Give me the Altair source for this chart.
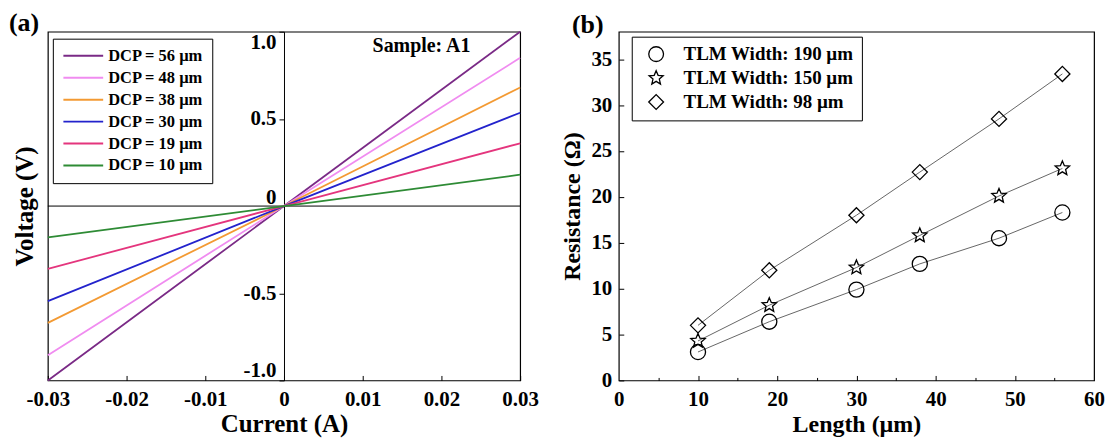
import math
import altair as alt
import pandas as pd

FONT = "Liberation Serif"

# ---------------- panel (a): I-V lines ----------------
current_points = [-0.03, 0.0, 0.03]
dcp_labels = ["DCP = 56 µm", "DCP = 48 µm", "DCP = 38 µm",
              "DCP = 30 µm", "DCP = 19 µm", "DCP = 10 µm"]
voltage_56 = [-1.0, 0.0, 1.0]
voltage_48 = [-0.855, 0.0, 0.85]
voltage_38 = [-0.67, 0.0, 0.68]
voltage_30 = [-0.545, 0.0, 0.535]
voltage_19 = [-0.36, 0.0, 0.36]
voltage_10 = [-0.18, 0.0, 0.18]
dcp_colors = ["#7a2a86", "#f08cf0", "#f39a33", "#2323cc", "#e4357d", "#2e8b35"]
x_ticks_a = [-0.03, -0.02, -0.01, 0, 0.01, 0.02, 0.03]
y_ticks_a = [-1.0, -0.5, 0, 0.5, 1.0]

# ---------------- panel (b): TLM resistance ----------------
lengths = [10, 19, 30, 38, 48, 56]
series_b = ["TLM Width: 190 µm", "TLM Width: 150 µm", "TLM Width: 98 µm"]
r_190 = [3.1, 6.4, 9.9, 12.7, 15.5, 18.3]
r_150 = [4.3, 8.2, 12.3, 15.8, 20.1, 23.1]
r_98 = [6.0, 12.0, 18.0, 22.7, 28.5, 33.4]
x_ticks_b = [0, 10, 20, 30, 40, 50, 60]
x_inner_ticks_b = [5, 10, 15, 20, 25, 30, 35, 40, 45, 50, 55]
y_ticks_b = [0, 5, 10, 15, 20, 25, 30, 35]

# ---------------- tables ----------------
rows_a = []
for lab, vs in zip(dcp_labels, [voltage_56, voltage_48, voltage_38, voltage_30, voltage_19, voltage_10]):
    for i, v in zip(current_points, vs):
        rows_a.append({"I": i, "V": v, "DCP": lab})
df_a = pd.DataFrame(rows_a)

rows_b = []
for lab, rs in zip(series_b, [r_190, r_150, r_98]):
    for L, r in zip(lengths, rs):
        rows_b.append({"L": L, "R": r, "S": lab})
df_b = pd.DataFrame(rows_b)

# star symbol path (style only)
pts = []
for k in range(10):
    ang = math.radians(-90 + 36 * k)
    rad = 1.0 if k % 2 == 0 else 0.45
    pts.append(f"{rad * math.cos(ang):.3f},{rad * math.sin(ang):.3f}")
STAR = "M" + " L".join(pts) + " Z"
LINE_SYM = "M-1,0H5"

W1, H1 = 474, 350
W2, H2 = 477, 350
GAP = 99

# ---------------- panel (a) chart ----------------
xs_a = alt.Scale(domain=[-0.03, 0.03], nice=False, zero=False)
ys_a = alt.Scale(domain=[-1.0, 1.0], nice=False, zero=False)
lab_x_a = "datum.value === 0 ? '0' : (datum.value < 0 ? '-' : '') + format(abs(datum.value), '.2f')"
lab_y_a = "datum.value === 0 ? '0' : (datum.value < 0 ? '-' : '') + format(abs(datum.value), '.1f')"

zero_rule = alt.Chart(pd.DataFrame({"V": [0.0]})).mark_rule(color="black", strokeWidth=1).encode(
    y=alt.Y("V:Q", scale=ys_a, axis=None)
)

lines_a = alt.Chart(df_a).mark_line(strokeWidth=1.8).encode(
    x=alt.X("I:Q", scale=xs_a, axis=alt.Axis(
        title="Current (A)", values=x_ticks_a, labelExpr=lab_x_a, labelFlush=False,
        ticks=False, tickSize=0, domain=False, grid=False, labelPadding=8,
        titlePadding=2, titleFontSize=25, labelFontSize=21,
        labelFont=FONT, labelFontWeight=700)),
    y=alt.Y("V:Q", scale=ys_a, axis=alt.Axis(
        title="Voltage (V)", values=y_ticks_a, labelExpr=lab_y_a, labelFlush=True,
        offset=-W1 / 2, tickSize=5, labelPadding=3, domain=True, grid=False,
        titleX=-(W1 / 2) - 10, titleFontSize=25, labelFontSize=21,
        labelFont=FONT, labelFontWeight=700,
        labelOffset={"condition": {"test": "datum.value === 0", "value": -9}, "value": 0})),
    color=alt.Color("DCP:N", scale=alt.Scale(domain=dcp_labels, range=dcp_colors),
                    legend=alt.Legend(
                        title=None, orient="none", legendX=5, legendY=7,
                        strokeColor="black", fillColor="white", padding=9,
                        symbolType=LINE_SYM, symbolSize=177, symbolStrokeWidth=2,
                        labelFont=FONT, labelFontSize=16.5, labelFontWeight="bold",
                        labelColor="black", labelOffset=30, rowPadding=5, labelLimit=300)),
    detail="DCP:N",
)

xt_a = alt.Chart(df_a).mark_point(opacity=0).encode(
    x=alt.X("I:Q", scale=xs_a, axis=alt.Axis(
        orient="top", offset=-H1, values=x_ticks_a, labels=False, domain=False,
        grid=False, tickSize=5, title=None))
)

tag_a = alt.Chart(pd.DataFrame({"t": ["(a)"]})).mark_text(
    font=FONT, fontSize=26, fontWeight="bold", align="left", baseline="top", color="black"
).encode(text="t:N", x=alt.value(-39), y=alt.value(-22))

sample = alt.Chart(pd.DataFrame({"t": ["Sample: A1"]})).mark_text(
    font=FONT, fontSize=20, fontWeight="bold", align="center", baseline="middle", color="black"
).encode(text="t:N", x=alt.value(375), y=alt.value(14))

left = alt.layer(zero_rule, lines_a, xt_a, tag_a, sample).resolve_axis(
    x="independent", y="independent"
).properties(width=W1, height=H1)

# ---------------- panel (b) chart ----------------
xs_b = alt.Scale(domain=[0, 60], nice=False)
ys_b = alt.Scale(domain=[0, 38], nice=False)

lines_b = alt.Chart(df_b).mark_line(color="#555555", strokeWidth=0.9).encode(
    x=alt.X("L:Q", scale=xs_b, axis=alt.Axis(
        title="Length (µm)", values=x_ticks_b, labelFlush=False, ticks=False, tickSize=0,
        domain=False, grid=False, labelPadding=8, titlePadding=3,
        titleFontSize=24, labelFontSize=21, labelFont=FONT, labelFontWeight=700)),
    y=alt.Y("R:Q", scale=ys_b, axis=alt.Axis(
        title="Resistance (Ω)", values=y_ticks_b, labelFlush=False, ticks=False, tickSize=0,
        domain=False, grid=False, labelPadding=7, titlePadding=6,
        titleFontSize=24, labelFontSize=21, labelFont=FONT, labelFontWeight=700)),
    detail="S:N",
)

points_b = alt.Chart(df_b).mark_point(filled=False, color="black", size=230, strokeWidth=1.3, opacity=1).encode(
    x=alt.X("L:Q", scale=xs_b, axis=None),
    y=alt.Y("R:Q", scale=ys_b, axis=None),
    shape=alt.Shape("S:N", scale=alt.Scale(domain=series_b, range=["circle", STAR, "diamond"]),
                    legend=alt.Legend(
                        title=None, orient="none", legendX=W1 + GAP + 13, legendY=5,
                        strokeColor="black", fillColor="white", padding=8,
                        symbolSize=220, symbolStrokeWidth=1.3, symbolStrokeColor="black",
                        symbolFillColor="white", symbolOffset=7,
                        labelFont=FONT, labelFontSize=19, labelFontWeight="bold",
                        labelColor="black", labelOffset=18, rowPadding=3, labelLimit=300)),
)

xt_b = alt.Chart(df_b).mark_point(opacity=0).encode(
    x=alt.X("L:Q", scale=xs_b, axis=alt.Axis(
        orient="top", offset=-H2, values=x_inner_ticks_b, labels=False, domain=False,
        grid=False, title=None,
        tickSize={"condition": {"test": "datum.value % 10 === 0", "value": 5}, "value": 3}))
)

yt_b = alt.Chart(df_b).mark_point(opacity=0).encode(
    y=alt.Y("R:Q", scale=ys_b, axis=alt.Axis(
        orient="right", offset=-W2, values=y_ticks_b, labels=False, domain=False,
        grid=False, title=None, tickSize=5))
)

tag_b = alt.Chart(pd.DataFrame({"t": ["(b)"]})).mark_text(
    font=FONT, fontSize=26, fontWeight="bold", align="left", baseline="top", color="black"
).encode(text="t:N", x=alt.value(-47), y=alt.value(-20))

right = alt.layer(lines_b, points_b, xt_b, yt_b, tag_b).resolve_axis(
    x="independent", y="independent"
).properties(width=W2, height=H2)

chart = alt.hconcat(left, right, spacing=GAP, bounds="flush").properties(
    padding={"left": 0, "top": 0, "right": 5, "bottom": 5}
).configure_view(
    stroke="black", strokeWidth=1.2
).configure_axis(
    labelFont=FONT, labelFontWeight="bold", labelColor="black",
    titleFont=FONT, titleFontWeight="bold", titleColor="black",
    tickColor="black", domainColor="black", tickWidth=1
)

chart.save("out.html", embed_options={"renderer": "svg", "actions": False})
